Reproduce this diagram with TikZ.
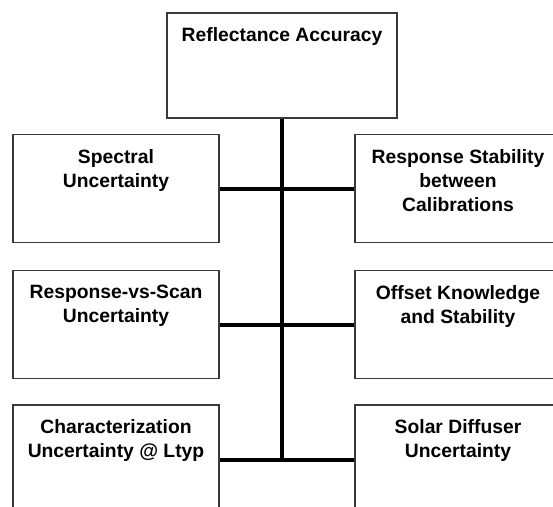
\documentclass[tikz,border=0pt]{standalone}
\usepackage{fontspec}
\setmainfont{Liberation Sans}
\begin{document}
\begin{tikzpicture}[x=1pt,y=1pt,
  box/.style={draw=boxline, line width=1.5pt, fill=white, inner sep=0pt,
    minimum width=206pt, minimum height=108pt},
  title/.style={anchor=north, yshift=-12pt, align=center,
    font=\bfseries\fontsize{19.3}{24}\selectfont},
  link/.style={line width=4pt, black}]
\definecolor{boxline}{HTML}{3A3A3A}
\useasboundingbox (0,0) rectangle (553,-506);
\clip (0,0) rectangle (553,-506);

% root of the tree
\node[box, minimum width=230pt, minimum height=105pt,
  label={[title]north:Reflectance Accuracy}] (root) at (282,-65.5) {};

% left column
\node[box, label={[title]north:Spectral\\Uncertainty}] (l1) at (116,-188.5) {};
\node[box, label={[title]north:Response-vs-Scan\\Uncertainty}] (l2) at (116,-324.5) {};
\node[box, minimum height=110pt,
  label={[title]north:Characterization\\Uncertainty @ Ltyp}] (l3) at (116,-460) {};

% right column
\node[box, label={[title]north:Response Stability\\between\\Calibrations}] (r1) at (458,-188.5) {};
\node[box, label={[title]north:Offset Knowledge\\and Stability}] (r2) at (458,-324.5) {};
\node[box, minimum height=110pt,
  label={[title]north:Solar Diffuser\\Uncertainty}] (r3) at (458,-460) {};

% trunk and branches
\coordinate (trunkend) at (root.south |- l3.east);
\draw[link] (root.south) -- (trunkend);
\draw[link] (l1.east) -- (r1.west);
\draw[link] (l2.east) -- (r2.west);
\draw[link] (l3.east) -- (r3.west);
\end{tikzpicture}
\end{document}
